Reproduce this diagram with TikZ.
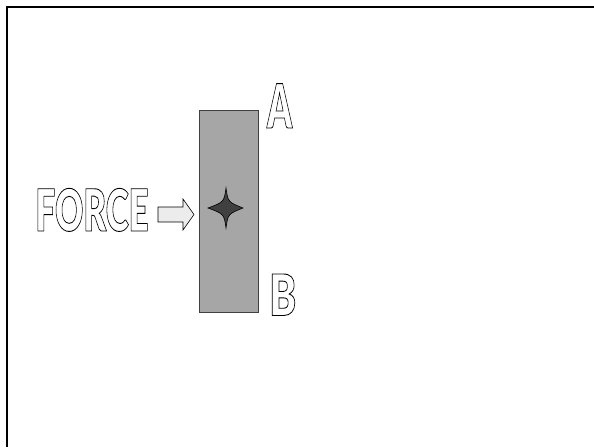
\documentclass[tikz,border=0pt]{standalone}
\usepackage{fontspec}
\setmainfont{Liberation Sans}
\IfFontExistsTF{Lato Black}{\newfontfamily\heavy{Lato Black}}{\newfontfamily\heavy{Liberation Sans}[UprightFont=* Bold]}
\definecolor{barfill}{HTML}{A6A6A6}
\definecolor{arrowfill}{HTML}{ECECEC}
\definecolor{starfill}{HTML}{404040}
% #1 xscale, #2 font size, #3 text  (stroke-only glyphs)
\newcommand{\outl}[3]{\scalebox{#1}[1]{\fontsize{#2}{#2}\selectfont\heavy
  \special{pdf:literal direct 1 Tr 0.9 w 0 G}#3\special{pdf:literal direct 0 Tr}}}
\tikzset{
  lbl/.style={inner sep=0pt, outer sep=0pt},
  bar/.style={draw=black!75, fill=barfill, line width=0.8pt},
}
\begin{document}
\begin{tikzpicture}[x=1pt,y=-1pt]
\useasboundingbox (0,0) rectangle (594,447);
\draw[line width=2.2pt] (7,447) -- (7,7) -- (594,7);
\node[bar, minimum width=59pt, minimum height=202pt, anchor=north west] (rect) at (199,110) {};
\filldraw[draw=black, fill=starfill, line width=0.6pt]
  (226,188) .. controls (228,202) .. (243,208) .. controls (228,214) .. (226,228) .. controls (224,214) .. (208,208) .. controls (224,202) .. cycle;
\coordinate (star) at (226,208);
\filldraw[draw=black, fill=arrowfill, line width=0.6pt]
  (158,207) -- (183,207) -- (183,199) -- (194,214.5) -- (183,230) -- (183,222) -- (158,222) -- cycle;
\node[lbl, anchor=base west] (force) at (35.5,231) {\outl{0.6}{58}{FORCE}};
\node[lbl, anchor=base west] (A) at (267,128) {\outl{0.58}{61}{A}};
\node[lbl, anchor=base west] (B) at (269.5,315.5) {\outl{0.7}{57}{B}};
\end{tikzpicture}
\end{document}
